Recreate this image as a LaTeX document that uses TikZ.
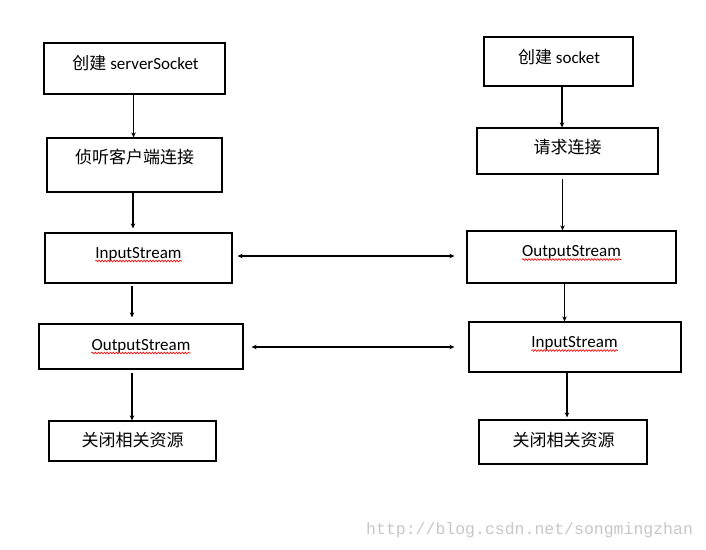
\documentclass[tikz,border=0pt]{standalone}
\usepackage{fontspec}
\setmainfont{Carlito}
\newfontfamily\cjk{Noto Sans CJK SC}
\newfontfamily\wmfont{Liberation Mono}
\usetikzlibrary{fit,arrows.meta,decorations.pathmorphing}
\newlength\wsS
\begin{document}
\begin{tikzpicture}[x=1pt,y=-1pt,
  box/.style={draw=black,line width=1.2pt,inner sep=0pt,fit={#1}},
  txt/.style={inner sep=0pt,font=\fontsize{17}{20}\selectfont},
  arr/.style={line width=1.1pt,-{Stealth[length=5pt,width=4.5pt]}},
  darr/.style={line width=1.1pt,{Stealth[length=5pt,width=4.5pt]}-{Stealth[length=5pt,width=4.5pt]}},
  wavy/.style={draw=red,line width=0.6pt,decorate,decoration={snake,amplitude=0.9pt,segment length=3pt}}]
\useasboundingbox (0,0) rectangle (706,549);
\settowidth{\wsS}{\fontsize{17}{20}\selectfont serverSocket}
% left column boxes
\node[box={(44,43) (225,94)}] (L1) {};
\node[box={(47,138) (222,192)}] (L2) {};
\node[box={(45,233) (232,283)}] (L3) {};
\node[box={(39,324) (243,369)}] (L4) {};
\node[box={(49,421) (216,461)}] (L5) {};
% right column boxes
\node[box={(484,37) (633,86)}] (R1) {};
\node[box={(477,128) (658,174)}] (R2) {};
\node[box={(467,231) (676,283)}] (R3) {};
\node[box={(469,322) (681,372)}] (R4) {};
\node[box={(479,420) (647,464)}] (R5) {};
% texts
\node[txt,anchor=base] (L1t) at (135.5,69) {{\cjk 创建} serverSocket};
\node[txt,anchor=center] (L2t) at (134.5,157) {\cjk 侦听客户端连接};
\node[txt,anchor=base] (L3t) at (138.5,258) {InputStream};
\node[txt,anchor=base] (L4t) at (141,350) {OutputStream};
\node[txt,anchor=center] (L5t) at (132.5,440) {\cjk 关闭相关资源};
\node[txt,anchor=base] (R1t) at (559,63) {{\cjk 创建} socket};
\node[txt,anchor=center] (R2t) at (567.5,147) {\cjk 请求连接};
\node[txt,anchor=base] (R3t) at (571.5,256.5) {OutputStream};
\node[txt,anchor=base] (R4t) at (574.5,347.5) {InputStream};
\node[txt,anchor=center] (R5t) at (563.5,440) {\cjk 关闭相关资源};
% spell-check underlines
\draw[wavy] ([yshift=-3pt]L1t.base east) -- ++(-\wsS,0);
\draw[wavy] ([yshift=-3pt]L3t.base west) -- ([yshift=-3pt]L3t.base east);
\draw[wavy] ([yshift=-3pt]L4t.base west) -- ([yshift=-3pt]L4t.base east);
\draw[wavy] ([yshift=-3pt]R3t.base west) -- ([yshift=-3pt]R3t.base east);
\draw[wavy] ([yshift=-3pt]R4t.base west) -- ([yshift=-3pt]R4t.base east);
% arrow x positions
\coordinate (xa1) at (133.5,0);
\coordinate (xa2) at (133,0);
\coordinate (xa3) at (132,0);
\coordinate (xa4) at (132,0);
\coordinate (xb1) at (562,0);
\coordinate (xb2) at (562.5,0);
\coordinate (xb3) at (564.5,0);
\coordinate (xb4) at (567,0);
\coordinate (yA) at (0,256);
\coordinate (yB) at (0,347);
% vertical arrows
\draw[arr] (L1.south -| xa1) -- (L2.north -| xa1);
\draw[arr,shorten >=4pt] (L2.south -| xa2) -- (L3.north -| xa2);
\draw[arr,shorten <=2pt,shorten >=6pt] (L3.south -| xa3) -- (L4.north -| xa3);
\draw[arr,shorten <=3pt] (L4.south -| xa4) -- (L5.north -| xa4);
\draw[arr] (R1.south -| xb1) -- (R2.north -| xb1);
\draw[arr,shorten <=4pt] (R2.south -| xb2) -- (R3.north -| xb2);
\draw[arr] (R3.south -| xb3) -- (R4.north -| xb3);
\draw[arr,shorten >=2pt] (R4.south -| xb4) -- (R5.north -| xb4);
% horizontal double arrows
\draw[darr,shorten <=5pt,shorten >=12pt] (L3.east |- yA) -- (R3.west |- yA);
\draw[darr,shorten <=8pt,shorten >=14pt] (L4.east |- yB) -- (R4.west |- yB);
% watermark
\node[inner sep=0pt,anchor=base west,font=\fontsize{16.5}{18}\wmfont,text=black!22] (wm) at (366,534) {http://blog.csdn.net/songmingzhan};
\end{tikzpicture}
\end{document}
